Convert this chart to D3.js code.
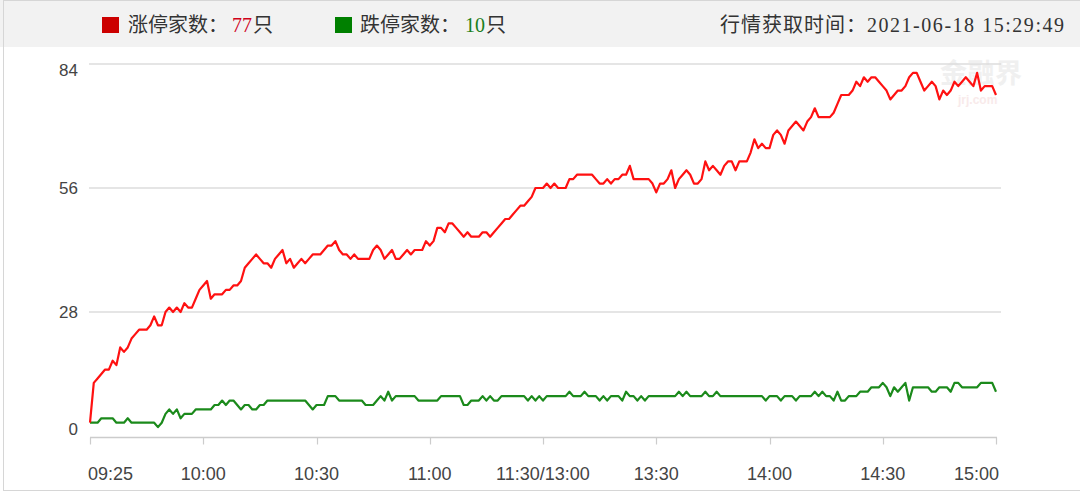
<!DOCTYPE html>
<html>
<head>
<meta charset="utf-8">
<script src="https://cdn.jsdelivr.net/npm/d3@7/dist/d3.min.js"></script>
<style>
  html, body { margin: 0; padding: 0; background: #fff; }
  svg { display: block; }
</style>
</head>
<body>
<svg id="chart" width="1080" height="495"></svg>
<script>
// ---------------- data ----------------
const tickLabels = ["09:25", "10:00", "10:30", "11:00", "11:30/13:00", "13:30", "14:00", "14:30", "15:00"];
const tickIndex = [0, 30, 60, 90, 120, 150, 180, 210, 240];
const yTicks = [0, 28, 56, 84];

// 涨停家数 (limit-up count), one value per minute
const limitUp = [
  3,12,13,14,15,15,17,16,20,19,
  20,22,23,24,24,24,25,27,25,25,
  28,29,28,29,28,30,29,29,31,33,
  34,35,31,32,32,32,33,33,34,34,
  35,38,39,40,41,40,39,39,38,40,
  41,42,39,40,38,39,40,39,40,41,
  41,41,42,43,43,44,42,41,41,40,
  41,40,40,40,40,42,43,42,40,41,
  42,40,40,41,42,41,42,42,42,44,
  43,44,47,47,46,48,48,47,46,45,
  46,45,45,45,46,46,45,46,47,48,
  49,49,50,51,52,52,53,54,56,56,
  56,57,56,57,56,56,56,58,58,59,
  59,59,59,59,58,57,57,58,57,58,
  58,59,59,61,58,58,58,58,58,57,
  55,57,57,58,60,56,58,59,60,59,
  57,57,58,62,60,61,60,59,61,62,
  62,60,62,62,62,64,67,65,66,65,
  65,68,69,68,66,69,70,71,70,69,
  71,72,74,72,72,72,72,73,75,77,
  77,77,78,80,79,81,80,81,81,80,
  79,78,76,77,78,78,79,81,82,82,
  80,78,79,80,79,76,78,77,78,80,
  79,80,81,80,79,82,78,79,79,79,
  77
];

// 跌停家数 (limit-down count), one value per minute
const limitDown = [
  3,3,3,4,4,4,4,3,3,3,
  4,3,3,3,3,3,3,3,2,3,
  5,6,5,6,4,5,5,5,6,6,
  6,6,6,7,7,8,7,8,8,7,
  6,7,7,6,6,7,7,8,8,8,
  8,8,8,8,8,8,8,8,7,6,
  7,7,7,9,9,9,8,8,8,8,
  8,8,8,7,7,7,8,9,8,10,
  8,9,9,9,9,9,9,8,8,8,
  8,8,8,9,9,9,9,9,9,7,
  7,8,8,8,9,8,9,8,8,9,
  9,9,9,9,9,9,8,9,8,9,
  8,9,9,9,9,9,9,10,9,9,
  9,10,9,9,9,8,9,8,9,9,
  9,8,10,9,9,8,9,8,9,9,
  9,9,9,9,9,9,10,9,10,9,
  9,9,9,10,9,9,10,9,9,9,
  9,9,9,9,9,9,9,9,9,8,
  9,9,9,8,9,9,9,8,9,9,
  9,9,10,9,10,9,9,8,10,8,
  8,9,9,9,10,10,10,11,11,11,
  12,11,9,11,10,11,12,8,11,11,
  11,11,11,10,10,11,11,11,10,12,
  12,11,11,11,11,11,12,12,12,12,
  10
];

const upCount = "77";
const downCount = "10";
const upLabel = "涨停家数：";
const downLabel = "跌停家数：";
const timeLabel = "行情获取时间：";
const timeValue = "2021-06-18 15:29:49";

// ---------------- drawing ----------------
const svg = d3.select("#chart");
const W = 1080, H = 495;

// header band
svg.append("rect").attr("x", 0).attr("y", 0).attr("width", W).attr("height", 47).attr("fill", "#f2f2f2");
// outer border
svg.append("rect").attr("x", 3.5).attr("y", 0.5).attr("width", W).attr("height", 490)
  .attr("fill", "none").attr("stroke", "#d6d6d6");

const cjk = "'Noto Sans CJK SC', sans-serif";
const latin = "'Liberation Serif', serif";

// legend
svg.append("rect").attr("x", 102).attr("y", 17).attr("width", 17).attr("height", 16).attr("fill", "#cc0000");
svg.append("text").attr("x", 128).attr("y", 32).attr("font-family", cjk).attr("font-size", 20)
  .attr("fill", "#333").text(upLabel);
svg.append("text").attr("x", 232).attr("y", 32).attr("font-family", latin).attr("font-size", 20)
  .attr("fill", "#d0021b").text(upCount);
svg.append("text").attr("x", 253).attr("y", 32).attr("font-family", cjk).attr("font-size", 20)
  .attr("fill", "#333").text("只");

svg.append("rect").attr("x", 335).attr("y", 17).attr("width", 17).attr("height", 16).attr("fill", "#008000");
svg.append("text").attr("x", 360).attr("y", 32).attr("font-family", cjk).attr("font-size", 20)
  .attr("fill", "#333").text(downLabel);
svg.append("text").attr("x", 465).attr("y", 32).attr("font-family", latin).attr("font-size", 20)
  .attr("fill", "#1a7f1a").text(downCount);
svg.append("text").attr("x", 486).attr("y", 32).attr("font-family", cjk).attr("font-size", 20)
  .attr("fill", "#333").text("只");

// fetch time
svg.append("text").attr("x", 720).attr("y", 32).attr("font-family", cjk).attr("font-size", 20)
  .attr("fill", "#333").attr("textLength", 146).attr("lengthAdjust", "spacing").text(timeLabel);
svg.append("text").attr("x", 867).attr("y", 32).attr("font-family", latin).attr("font-size", 20)
  .attr("fill", "#333").attr("textLength", 197).attr("lengthAdjust", "spacing").text(timeValue);

// scales
const x = d3.scaleLinear().domain([0, 240]).range([90, 996]);
const y = d3.scaleLinear().domain([0, 84]).range([436, 64]);

// watermark
const wm = svg.append("g").attr("opacity", 0.5);
wm.append("text").attr("x", 940).attr("y", 83).attr("font-family", cjk).attr("font-size", 27)
  .attr("font-weight", "bold").attr("fill", "#e2e2e2").attr("textLength", 82).text("金融界");
wm.append("text").attr("x", 958).attr("y", 104).attr("font-family", "'Liberation Sans', sans-serif")
  .attr("font-size", 12).attr("font-weight", "bold").attr("fill", "#f3d6d6").text("jrj.com");

// grid lines
svg.append("g").selectAll("line").data(yTicks.filter(d => d > 0)).join("line")
  .attr("x1", 89).attr("x2", 1001)
  .attr("y1", d => y(d)).attr("y2", d => y(d))
  .attr("stroke", "#dcdcdc").attr("stroke-width", 1.5);

// y labels
svg.append("g").selectAll("text").data(yTicks).join("text")
  .attr("x", 78)
  .attr("y", d => Math.min(Math.max(y(d), 70), 429))
  .attr("dy", "0.36em")
  .attr("text-anchor", "end")
  .attr("font-family", "'Liberation Sans', Arial, sans-serif")
  .attr("font-size", 17)
  .attr("fill", "#444")
  .text(d => d);

// x axis
const axisY = 437.5;
svg.append("line").attr("x1", 90).attr("x2", 997).attr("y1", axisY).attr("y2", axisY)
  .attr("stroke", "#cccccc").attr("stroke-width", 1.5);
svg.append("g").selectAll("line").data(tickIndex).join("line")
  .attr("x1", d => Math.round(x(d)) + 0.5).attr("x2", d => Math.round(x(d)) + 0.5)
  .attr("y1", axisY).attr("y2", axisY + 7)
  .attr("stroke", "#cccccc").attr("stroke-width", 1.2);
svg.append("g").selectAll("text").data(tickIndex).join("text")
  .attr("x", (d, i) => i === 0 ? x(d) - 2 : (i === tickIndex.length - 1 ? x(d) + 3 : x(d)))
  .attr("y", 480)
  .attr("text-anchor", (d, i) => i === 0 ? "start" : (i === tickIndex.length - 1 ? "end" : "middle"))
  .attr("font-family", "'Liberation Sans', Arial, sans-serif")
  .attr("font-size", 18)
  .attr("fill", "#444")
  .text((d, i) => tickLabels[i]);

// lines
const line = d3.line().x((d, i) => x(i)).y(d => y(d));
svg.append("path").datum(limitDown).attr("d", line)
  .attr("fill", "none").attr("stroke", "#1b8a1b").attr("stroke-width", 2.2).attr("stroke-linejoin", "round");
svg.append("path").datum(limitUp).attr("d", line)
  .attr("fill", "none").attr("stroke", "#ff1111").attr("stroke-width", 2.2).attr("stroke-linejoin", "round");
</script>
</body>
</html>
